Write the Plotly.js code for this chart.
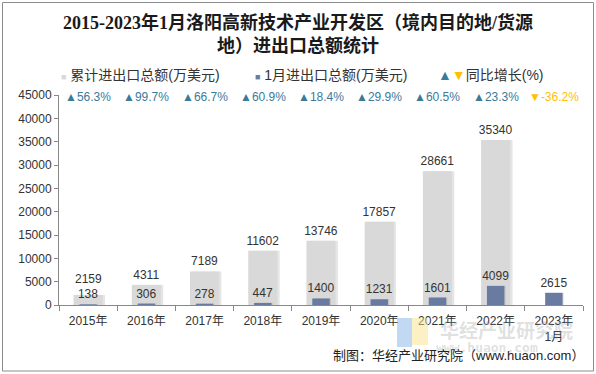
<!DOCTYPE html>
<html>
<head>
<meta charset="utf-8">
<script src="https://cdn.plot.ly/plotly-3.0.1.min.js"></script>
<style>html,body{margin:0;padding:0;background:#fff;}#chart{width:596px;height:374px;}</style>
</head>
<body>
<div id="chart"></div>
<script>
const categories = ['2015年','2016年','2017年','2018年','2019年','2020年','2021年','2022年','2023年<br>1月'];
const cumulativeTotal = [2159, 4311, 7189, 11602, 13746, 17857, 28661, 35340, null];
const januaryTotal = [138, 306, 278, 447, 1400, 1231, 1601, 4099, 2615];
const yoyGrowth = [56.3, 99.7, 66.7, 60.9, 18.4, 29.9, 60.5, 23.3, -36.2];
const yTicks = [0, 5000, 10000, 15000, 20000, 25000, 30000, 35000, 40000, 45000];
const seriesNames = ['累计进出口总额(万美元)', '1月进出口总额(万美元)', '同比增长(%)'];
const seriesColors = ['#D9D9D9', '#6A7BA2'];

const font = 'Liberation Sans, Arial, Noto Sans CJK SC, sans-serif';
const W = 596, H = 374;
const L = 59, R = 13, T = 95, B = 69;
const pw = W - L - R, ph = H - T - B;
const px = x => (x - L) / pw;
const py = y => (H - B - y) / ph;
const yMax = 45000;
const valPx = v => v / yMax * ph;

// labels of the grey bars that would collide with the label of the dark bar are lifted
const greyText = [];
const liftedLabels = [];
cumulativeTotal.forEach((v, i) => {
  if (v == null) { greyText.push(''); return; }
  const darkLabelTop = valPx(januaryTotal[i]) + 3 + 14;
  const greyLabelBottom = valPx(v) + 3;
  if (greyLabelBottom < darkLabelTop + 2) {
    greyText.push('');
    liftedLabels.push({i: i, shift: darkLabelTop + 2 - valPx(v)});
  } else {
    greyText.push(String(v));
  }
});

const traces = [
  {
    type: 'bar', x: categories, y: cumulativeTotal, showlegend: false, hoverinfo: 'skip',
    width: 0.5, offset: -0.21, marker: {color: 'rgba(0,0,0,0.10)'}
  },
  {
    type: 'bar', name: seriesNames[0], x: categories, y: cumulativeTotal,
    width: 0.5, marker: {color: seriesColors[0]}, showlegend: false,
    text: greyText, textposition: 'outside', constraintext: 'none',
    textfont: {family: font, size: 12, color: '#333333'}, cliponaxis: false
  },
  {
    type: 'bar', x: categories, y: januaryTotal, showlegend: false, hoverinfo: 'skip',
    width: 0.3, offset: -0.13, marker: {color: 'rgba(0,0,0,0.10)'}
  },
  {
    type: 'bar', name: seriesNames[1], x: categories, y: januaryTotal,
    width: 0.3, marker: {color: seriesColors[1]}, showlegend: false,
    text: januaryTotal.map(String), textposition: 'outside', constraintext: 'none',
    textfont: {family: font, size: 12, color: '#333333'}, cliponaxis: false
  }
];

const annotations = [];
liftedLabels.forEach(o => {
  annotations.push({
    x: categories[o.i], xref: 'x', y: cumulativeTotal[o.i], yref: 'y', yanchor: 'bottom', yshift: o.shift - 3,
    showarrow: false, text: String(cumulativeTotal[o.i]), font: {family: font, size: 12, color: '#333333'}
  });
});
categories.forEach((c, i) => {
  const g = yoyGrowth[i];
  const up = g >= 0;
  annotations.push({
    x: c, xref: 'x', y: py(97), yref: 'paper', showarrow: false,
    text: (up ? '▲' : '▼') + g.toFixed(1) + '%',
    font: {family: font, size: 12, color: up ? '#3C7A9A' : '#FFC000'},
    xanchor: 'center', yanchor: 'middle'
  });
});
// legend
const legendX = [59, 253];
seriesNames.slice(0, 2).forEach((n, i) => {
  annotations.push({
    x: px(legendX[i]), xref: 'paper', y: py(75), yref: 'paper', showarrow: false, xanchor: 'left', yanchor: 'middle',
    text: '<span style="color:' + seriesColors[i] + ';font-size:9px">■</span> ' + n,
    font: {family: font, size: 14, color: '#333333'}
  });
});
annotations.push({
  x: px(436), xref: 'paper', y: py(75), yref: 'paper', showarrow: false, xanchor: 'left', yanchor: 'middle',
  text: '<span style="color:#3C7A9A">▲</span><span style="color:#FFC000">▼</span>' + seriesNames[2],
  font: {family: font, size: 14, color: '#333333'}
});
annotations.push({
  x: px(298), xref: 'paper', y: py(34), yref: 'paper', showarrow: false, xanchor: 'center', yanchor: 'middle',
  text: '<b>2015-2023年1月洛阳高新技术产业开发区（境内目的地/货源<br>地）进出口总额统计</b>',
  font: {family: 'Liberation Serif, Noto Sans CJK SC, serif', size: 18, color: '#1a1a1a'}
});
annotations.push({
  x: px(438), xref: 'paper', y: py(329), yref: 'paper', showarrow: false, xanchor: 'left', yanchor: 'middle',
  text: '<b>华经产业研究院</b>', font: {family: 'Noto Sans CJK SC, sans-serif', size: 19, color: 'rgba(150,150,150,0.3)'}
});
annotations.push({
  x: px(434), xref: 'paper', y: py(347), yref: 'paper', showarrow: false, xanchor: 'left', yanchor: 'middle',
  text: '<b>www.huaon.com</b>', font: {family: 'DejaVu Sans Mono, monospace', size: 13, color: 'rgba(150,150,150,0.3)'}
});
annotations.push({
  x: px(586), xref: 'paper', y: py(355), yref: 'paper', showarrow: false, xanchor: 'right', yanchor: 'middle',
  text: '制图：华经产业研究院（www.huaon.com）', font: {family: font, size: 13, color: '#222222'}
});

const layout = {
  width: W, height: H,
  margin: {l: L, r: R, t: T, b: B},
  paper_bgcolor: '#ffffff', plot_bgcolor: '#ffffff',
  barmode: 'overlay',
  font: {family: font, size: 12, color: '#333333'},
  showlegend: false,
  xaxis: {
    type: 'category', showline: true, linecolor: '#888888', linewidth: 1,
    ticks: 'outside', tickson: 'boundaries', ticklen: 5, tickcolor: '#888888', ticklabelstandoff: 5,
    tickfont: {family: font, size: 12, color: '#333333'}, showgrid: false, fixedrange: true
  },
  yaxis: {
    range: [0, yMax], tickvals: yTicks, ticktext: yTicks.map(String),
    showline: true, linecolor: '#888888', linewidth: 1, ticks: 'outside', ticklen: 4, tickcolor: '#888888',
    tickfont: {family: font, size: 12, color: '#333333'}, showgrid: false, zeroline: false, fixedrange: true
  },
  annotations: annotations,
  shapes: [
    {type: 'rect', xref: 'paper', yref: 'paper', x0: px(2.5), x1: px(593.5), y0: py(371), y1: py(2.5),
     line: {color: '#8c8c8c', width: 1}, fillcolor: 'rgba(0,0,0,0)', layer: 'above'},
    {type: 'rect', xref: 'paper', yref: 'paper', x0: px(397), x1: px(412), y0: py(347), y1: py(318),
     line: {width: 0}, fillcolor: 'rgba(120,170,230,0.45)', layer: 'above'},
    {type: 'rect', xref: 'paper', yref: 'paper', x0: px(412), x1: px(428), y0: py(345), y1: py(318),
     line: {width: 0}, fillcolor: 'rgba(250,225,140,0.5)', layer: 'above'}
  ]
};

Plotly.newPlot('chart', traces, layout, {displayModeBar: false, staticPlot: true});
</script>
</body>
</html>
